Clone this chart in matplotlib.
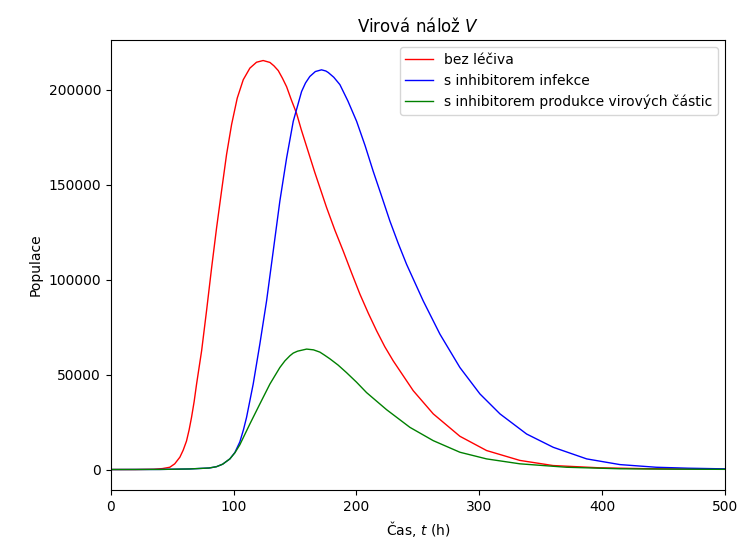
import numpy as np
import matplotlib
matplotlib.use("Agg")
import matplotlib.pyplot as plt

# values (time in h, virus count)
t_bez = [0, 20, 35, 42, 48, 52, 56.2, 58.9, 61.6, 63.7, 65.7, 67.8, 69.8, 73.9,
         77.9, 82, 86.1, 90.1, 94.2, 98.3, 102.9, 107.8, 113.2, 118.6, 124, 129.5,
         132.8, 136.3, 139.7, 143.1, 147, 151.2, 155, 159.4, 166, 175.6, 182.4,
         189.2, 196, 202.8, 209.6, 216.4, 223, 229.9, 246.2, 262.5, 284.2, 305.9,
         333, 360, 398, 440, 500]
v_bez = [0, 0, 150, 500, 1200, 3000, 6500, 10200, 15000, 20800, 27500, 35700,
         45000, 62500, 83500, 106000, 127300, 146500, 165800, 181600, 195500,
         205200, 211300, 214400, 215300, 214300, 212500, 210000, 206000, 201500,
         194500, 187500, 179000, 170000, 156500, 138000, 126000, 115000, 103500,
         92300, 82300, 73000, 64700, 57200, 41500, 29300, 17500, 10000, 4800,
         2100, 900, 400, 150]

t_inf = [0, 40, 64, 80, 86, 91, 96.9, 101, 105, 108, 110.5, 115.9, 121.3, 126.8,
         132.2, 137.6, 143.1, 148.5, 155.3, 158.5, 162, 166.5, 171.5, 175, 177,
         181.5, 186.5, 193, 200.1, 207, 213.6, 220.4, 227.2, 234, 240.8, 254.3,
         267.9, 284.2, 300.5, 316.8, 338.5, 360.2, 387.4, 414.5, 444, 470, 500]
v_inf = [0, 50, 300, 800, 1500, 2800, 5600, 9000, 14500, 21000, 27500, 45000,
         66000, 88800, 115000, 141300, 164000, 183300, 199000, 203500, 206900,
         209500, 210400, 209800, 209000, 206500, 202600, 194000, 183300, 170500,
         157000, 144000, 130800, 119000, 108000, 88800, 71300, 53700, 39800,
         29300, 18700, 11700, 5600, 2600, 1200, 700, 350]

t_prod = [0, 40, 64, 80, 86, 91, 96.9, 101, 105, 113.2, 121.3, 129.5, 137.6, 141.7,
          145.8, 148.5, 152, 159.4, 165, 170.2, 174, 178.3, 185, 191.9, 200, 208.2,
          224.5, 243.5, 262.5, 284.2, 305.9, 333.1, 371, 414.5, 460, 500]
v_prod = [0, 50, 300, 800, 1500, 2800, 5600, 8800, 13000, 24000, 34500, 45000,
          53700, 57200, 59900, 61300, 62300, 63400, 63000, 61800, 60200, 58300,
          55000, 51000, 46000, 40500, 31500, 22200, 15200, 9100, 5600, 3000, 1200,
          400, 200, 100]

fig = plt.figure(figsize=(7.39, 5.46), dpi=100)
ax = fig.add_axes([0.150, 0.1026, 0.831, 0.824])

ax.plot(t_bez, v_bez, color="red", lw=1, label="bez léčiva")
ax.plot(t_inf, v_inf, color="blue", lw=1, label="s inhibitorem infekce")
ax.plot(t_prod, v_prod, color="green", lw=1, label="s inhibitorem produkce virových částic")

ax.set_xlim(0, 500)
ax.set_title("Virová nálož $V$")
ax.set_xlabel("Čas, $t$ (h)")
ax.set_ylabel("Populace")
ax.legend(loc="upper right")

fig.savefig("out.png", dpi=100)
